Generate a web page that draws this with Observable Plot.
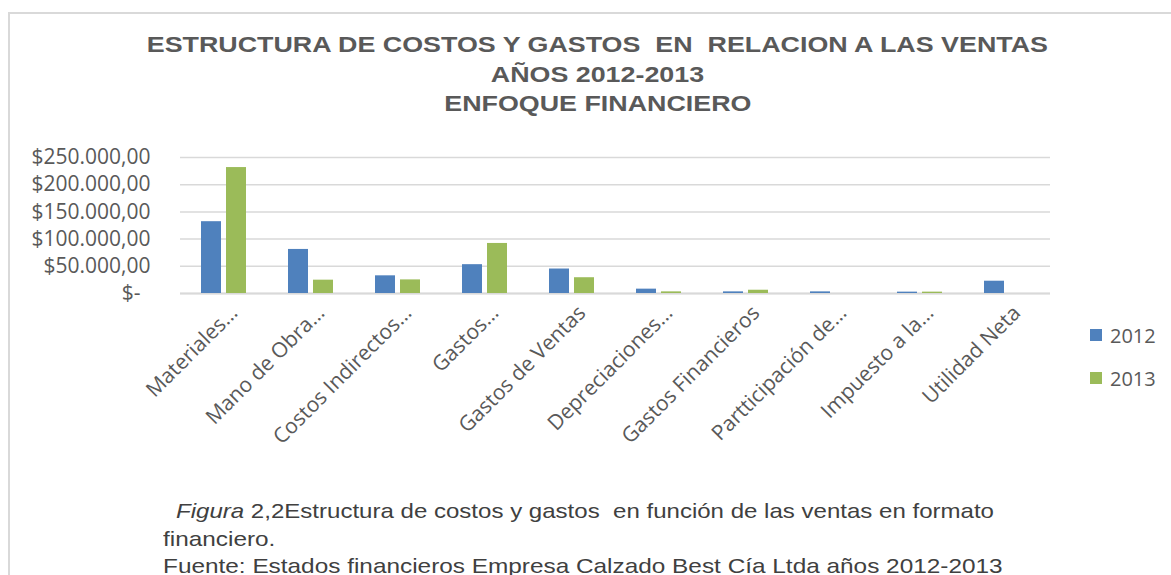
<!DOCTYPE html>
<html>
<head>
<meta charset="utf-8">
<script src="https://cdn.jsdelivr.net/npm/d3@7"></script>
<script src="https://cdn.jsdelivr.net/npm/@observablehq/plot@0.6"></script>
<style>
  html, body { margin: 0; padding: 0; background: #fff; width: 1171px; height: 575px; overflow: hidden; }
  body { position: relative; font-family: "Liberation Sans", Arial, sans-serif; }
  #frame { position: absolute; left: 8px; top: 12px; width: 1400px; height: 800px; border-left: 2px solid #d9d9d9; border-top: 2px solid #d9d9d9; pointer-events: none; }
  #title { position: relative; left: 12px; width: 1171px; text-align: center; padding-top: 30px; height: 110px; font-weight: bold; font-size: 22px; line-height: 29.5px; color: #595959; white-space: pre; }
  #title span { display: inline-block; transform: scaleX(1.22); transform-origin: 50% 50%; }
  #row { display: flex; flex-direction: row; height: 340px; }
  #legend { position: relative; width: 91px; font-family: "Open Sans", sans-serif; font-size: 20px; color: #595959; }
  .item { position: absolute; left: 10px; display: flex; align-items: center; height: 24px; }
  .sw { width: 12px; height: 12px; margin-right: 8px; }
  #caption { margin-top: 17px; padding-left: 163px; width: 870px; font-size: 21px; line-height: 27.5px; color: #404040; }
  #caption .ln { display: inline-block; white-space: pre; transform: scaleX(1.16); transform-origin: 0 50%; }
  #caption .l1 { margin-left: 13px; transform: scaleX(1.145); }
</style>
</head>
<body>
<div id="frame"></div>
<div id="title"><span>ESTRUCTURA DE COSTOS Y GASTOS  EN  RELACION A LAS VENTAS</span>
<span>AÑOS 2012-2013</span>
<span>ENFOQUE FINANCIERO</span></div>
<div id="row"><div id="chart"></div><div id="legend"></div></div>
<div id="caption"><span class="ln l1"><i>Figura</i> 2,2Estructura de costos y gastos  en función de las ventas en formato</span><br><span class="ln">financiero.</span><br><span class="ln">Fuente: Estados financieros Empresa Calzado Best Cía Ltda años 2012-2013</span></div>
<script>
const categories = ["Materiales…", "Mano de Obra…", "Costos Indirectos…", "Gastos…", "Gastos de Ventas", "Depreciaciones…", "Gastos Financieros", "Partticipación de…", "Impuesto a la…", "Utilidad Neta"];
const years = ["2012", "2013"];
const values2012 = [132000, 81000, 32500, 53000, 45000, 8000, 3000, 3000, 2500, 22600];
const values2013 = [231500, 24500, 25000, 92000, 29000, 3000, 6000, 0, 2500, 0];
const yTicks = [0, 50000, 100000, 150000, 200000, 250000];
const colors = ["#4f81bd", "#9bbb59"];

const data = categories.flatMap((c, i) => [
  {cat: c, year: years[0], value: values2012[i]},
  {cat: c, year: years[1], value: values2013[i]}
]);

const fmt = v => "$" + d3.format(",.2f")(v).replace(/,/g, "#").replace(/\./g, ",").replace(/#/g, ".");

const chart = Plot.plot({
  width: 1080,
  height: 340,
  marginLeft: 180,
  marginRight: 30,
  marginTop: 17,
  marginBottom: 187,
  style: {fontFamily: "Open Sans, sans-serif", fontSize: "21px", color: "#595959", background: "transparent"},
  fx: {domain: categories, padding: 0, axis: null},
  x: {domain: years, axis: null, paddingInner: 0.2, paddingOuter: 0.84},
  y: {domain: [0, 250000], axis: null},
  color: {domain: years, range: colors},
  marks: [
    Plot.gridY(yTicks, {stroke: "#d9d9d9", strokeOpacity: 1, strokeWidth: 1.5}),
    Plot.ruleY([0], {stroke: "#d9d9d9", strokeWidth: 2}),
    Plot.barY(data, {fx: "cat", x: "year", y: "value", fill: "year"}),
    Plot.axisY(yTicks.filter(v => v > 0), {tickSize: 0, tickPadding: 30, tickFormat: fmt, fontSize: 21, label: null}),
    Plot.axisY([0], {tickSize: 0, tickPadding: 40, tickFormat: () => "$-", fontSize: 21, label: null}),
    Plot.axisFx({anchor: "bottom", tickRotate: -45, tickSize: 0, tickPadding: 8, dx: 10, dy: 8, fontSize: 21, label: null})
  ]
});
document.getElementById("chart").appendChild(chart);

const legend = document.getElementById("legend");
years.forEach((y, i) => {
  const it = document.createElement("div");
  it.className = "item";
  it.style.top = (183 + i * 43) + "px";
  it.innerHTML = `<div class="sw" style="background:${colors[i]}"></div><span>${y}</span>`;
  legend.appendChild(it);
});
</script>
</body>
</html>
